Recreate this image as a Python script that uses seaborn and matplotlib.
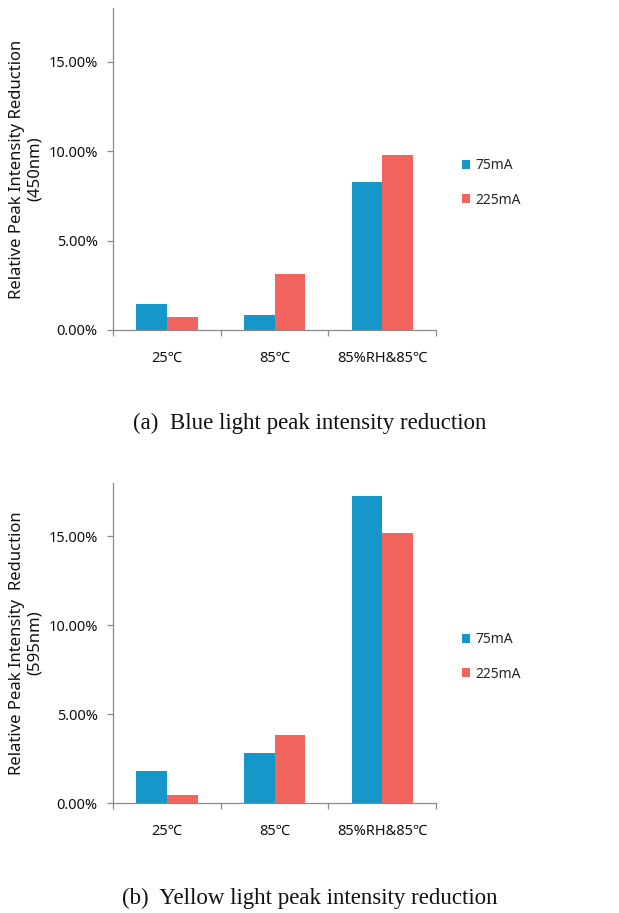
import numpy as np
import pandas as pd
import matplotlib
matplotlib.use("Agg")
import matplotlib.pyplot as plt
from matplotlib.ticker import PercentFormatter, FixedLocator
import seaborn as sns

# -------------------- data (in %) --------------------
conditions = ["25℃", "85℃", "85%RH&85℃"]
currents = ["75mA", "225mA"]

blue_75 = [1.44, 0.82, 8.26]
blue_225 = [0.75, 3.15, 9.76]

yellow_75 = [1.83, 2.84, 17.26]
yellow_225 = [0.49, 3.86, 15.19]

yticks = [0, 5, 10, 15]
ylabels = ["Relative Peak Intensity Reduction\n(450nm)",
           "Relative Peak Intensity  Reduction\n(595nm)"]
captions = ["(a)  Blue light peak intensity reduction",
            "(b)  Yellow light peak intensity reduction"]

palette = ["#1697C9", "#F2655F"]
axis_grey = "#8A8A8A"


def make_df(v75, v225):
    return pd.DataFrame({
        "condition": conditions * 2,
        "current": [currents[0]] * 3 + [currents[1]] * 3,
        "value": v75 + v225,
    })


sns.set_style("white")
plt.rcParams["font.family"] = ["Noto Sans", "Noto Sans CJK SC", "DejaVu Sans"]

fig = plt.figure(figsize=(6.19, 9.13), dpi=100)

panels = [
    (make_df(blue_75, blue_225), [0.1826, 0.6386, 0.522, 0.3527], ylabels[0], 0.7996, captions[0], 0.5367),
    (make_df(yellow_75, yellow_225), [0.1826, 0.1201, 0.522, 0.3512], ylabels[1], 0.2804, captions[1], 0.0164),
]

for df, rect, ylab, leg_y, cap, cap_y in panels:
    ax = fig.add_axes(rect)
    sns.barplot(data=df, x="condition", y="value", hue="current",
                palette=palette, saturation=1, width=0.57, linewidth=0, ax=ax,
                errorbar=None)
    ax.set_xlim(-0.5, 2.5)
    ax.set_ylim(0, 18)
    ax.set_yticks(yticks)
    ax.yaxis.set_major_formatter(PercentFormatter(xmax=100, decimals=2))
    ax.set_xlabel("")
    ax.set_ylabel(ylab, fontsize=12, color="#111111", labelpad=4, linespacing=1.15)

    # excel style: ticks between categories
    ax.xaxis.set_minor_locator(FixedLocator([-0.5, 0.5, 1.5, 2.5]))
    ax.tick_params(axis="x", which="major", length=0, pad=15, labelsize=10.5, colors="#111111")
    ax.tick_params(axis="x", which="minor", length=4, width=0.9, color=axis_grey, direction="out", bottom=True)
    ax.tick_params(axis="y", which="major", length=4, width=0.9, color=axis_grey, left=True,
                   pad=7, labelsize=10.5, labelcolor="#111111")

    for side in ["top", "right"]:
        ax.spines[side].set_visible(False)
    for side in ["left", "bottom"]:
        ax.spines[side].set_color(axis_grey)
        ax.spines[side].set_linewidth(0.9)

    handles, labels = ax.get_legend_handles_labels()
    ax.get_legend().remove()
    fig.legend(handles, labels, loc="center left", bbox_to_anchor=(0.7464, leg_y),
               frameon=False, fontsize=10, handlelength=0.6, handleheight=0.6,
               handletextpad=0.35, labelspacing=1.4, borderpad=0, borderaxespad=0)

    fig.text(0.501, cap_y, cap, ha="center", va="center", fontsize=16.5,
             family="Liberation Serif", color="#111111")

fig.savefig("out.png", dpi=100, facecolor="white")
